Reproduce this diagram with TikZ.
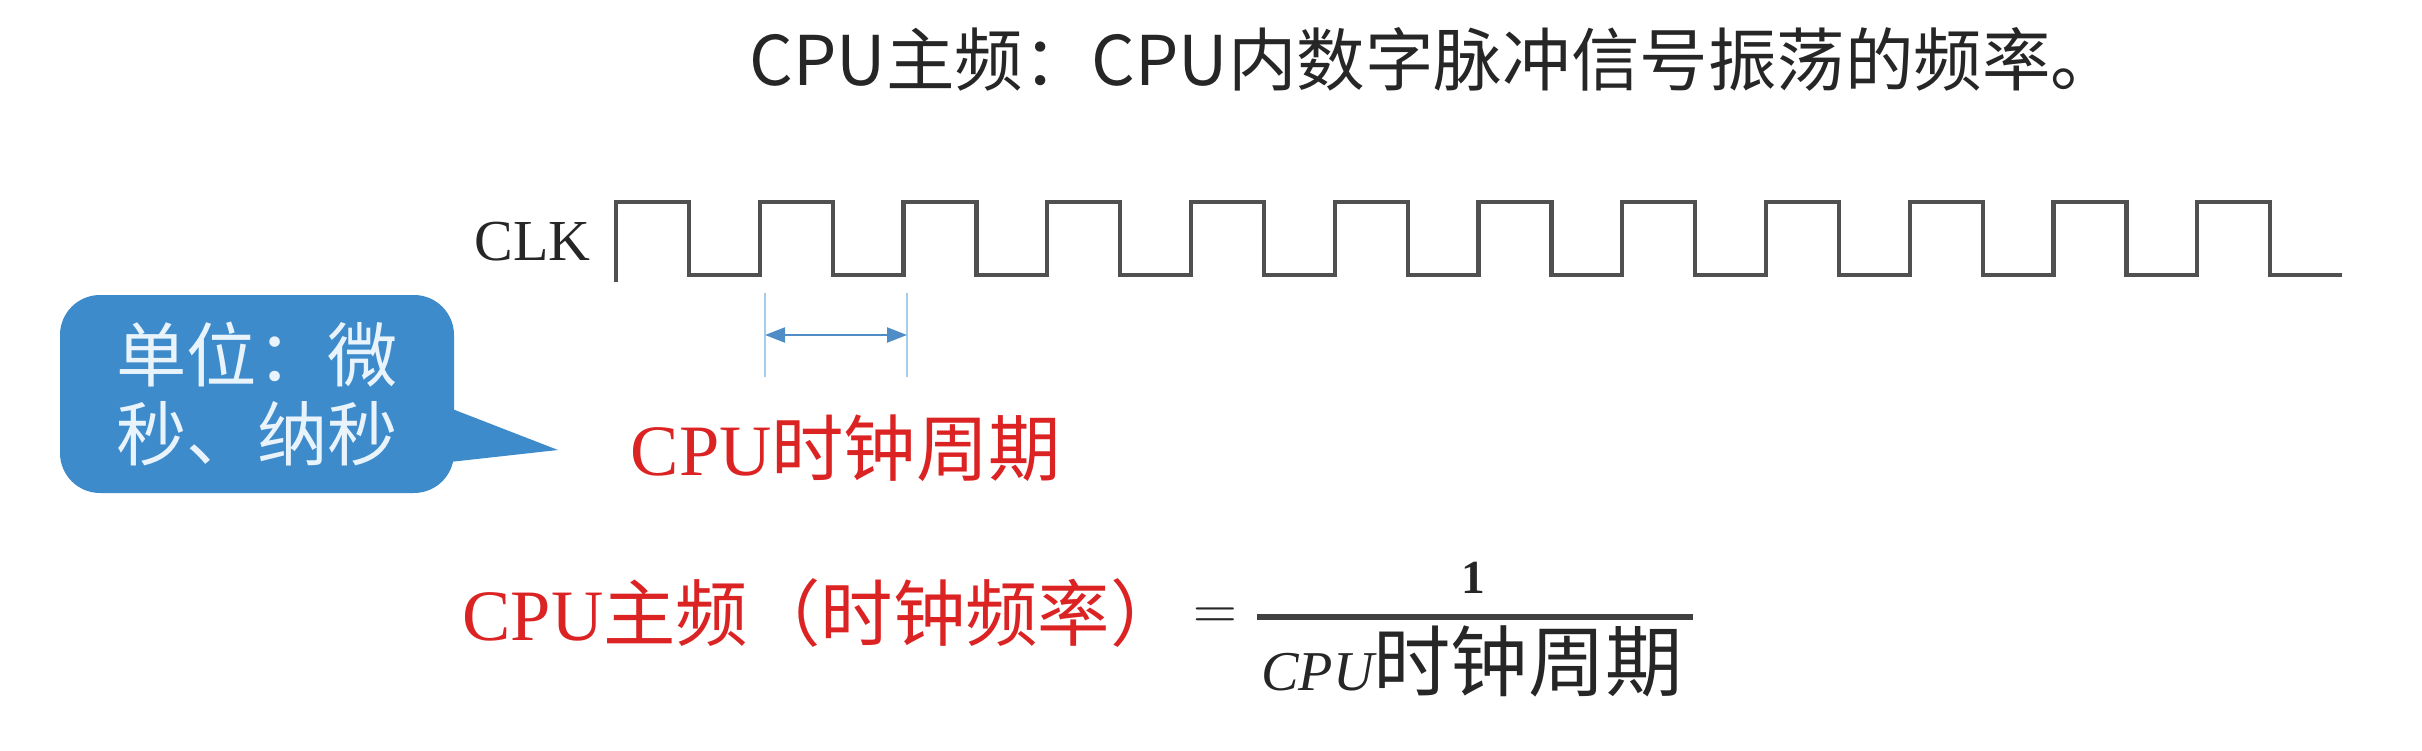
\documentclass[tikz,border=0pt]{standalone}
\usepackage{fontspec}
\setmainfont{Liberation Serif}
\newfontfamily\cjk{Noto Sans CJK SC}
\usetikzlibrary{arrows.meta}
\definecolor{clkgray}{RGB}{80,80,80}
\definecolor{tipblue}{RGB}{62,139,203}
\definecolor{tiptext}{RGB}{232,243,251}
\definecolor{markblue}{RGB}{165,205,233}
\definecolor{arrowblue}{RGB}{80,140,198}
\definecolor{keyred}{RGB}{220,35,35}

\begin{document}
\begin{tikzpicture}[x=1cm, y=1cm,
    redtext/.style={text=keyred, inner sep=0pt, anchor=base west, font=\fontsize{20.6}{24}\selectfont},
    darktext/.style={text=black!85, inner sep=0pt},
    edgeline/.style={markblue, line width=0.6pt},
    period/.style={arrowblue, line width=0.6pt, {Triangle[length=0.2cm,width=0.15cm]}-{Triangle[length=0.2cm,width=0.15cm]}}]
    \useasboundingbox (0,0) rectangle (24.22,7.5);
    \node[darktext, anchor=base west, font=\cjk\fontsize{19.5}{23}\selectfont] (title) at (7.49,6.64) {CPU主频：CPU内数字脉冲信号振荡的频率。};
    \node[darktext, anchor=east, font=\fontsize{16.5}{16.5}\selectfont] (clk) at (5.91,5.08) {CLK};
    \draw[clkgray, line width=1.2pt] (6.16,4.68) -- (6.16,5.48) foreach \k in {1,...,11} { -- ++(0.73,0) -- ++(0,-0.73) -- ++(0.7075,0) -- ++(0,0.73)} -- ++(0.73,0) -- ++(0,-0.73) -- (23.42,4.75);
    \coordinate (topA) at (7.65,4.57);
    \coordinate (botA) at (7.65,3.73);
    \coordinate (topB) at (9.07,4.57);
    \coordinate (botB) at (9.07,3.73);
    \coordinate (midA) at (7.65,4.15);
    \coordinate (midB) at (9.07,4.15);
    \draw[edgeline] (topA) -- (botA);
    \draw[edgeline] (topB) -- (botB);
    \draw[period] (midA) -- (midB);
    \node[fill=tipblue, rounded corners=0.4cm, minimum width=3.94cm, minimum height=1.98cm, inner sep=0pt, align=center, text=tiptext, font=\cjk\fontsize{20}{22.7}\selectfont] (unit) at (2.57,3.56) {单位：微\\秒、纳秒};
    \coordinate (tip) at (5.58,3.00);
    \fill[tipblue] ([xshift=-0.05cm, yshift=-0.14cm]unit.east) -- (tip) -- ([xshift=-0.05cm, yshift=-0.68cm]unit.east) -- cycle;
    \node[redtext] (cycle) at (6.30,2.75) {CPU{\cjk 时钟周期}};
    \node[redtext] (freq) at (4.62,1.10) {CPU{\cjk 主频（时钟频率）}};
    \node[darktext, font=\fontsize{17}{17}\selectfont] (eq) at (12.15,1.31) {$=$};
    \node[darktext, font=\bfseries\fontsize{13.5}{13.5}\selectfont] (one) at (14.73,1.72) {1};
    \coordinate (barL) at (12.57,1.33);
    \coordinate (barR) at (16.93,1.33);
    \draw[black!75, line width=1.5pt] (barL) -- (barR);
    \node[darktext, anchor=base] (den) at (14.72,0.60) {{\itshape\fontsize{16}{16}\selectfont CPU}{\cjk\fontsize{22}{22}\selectfont 时钟周期}};
\end{tikzpicture}
\end{document}
